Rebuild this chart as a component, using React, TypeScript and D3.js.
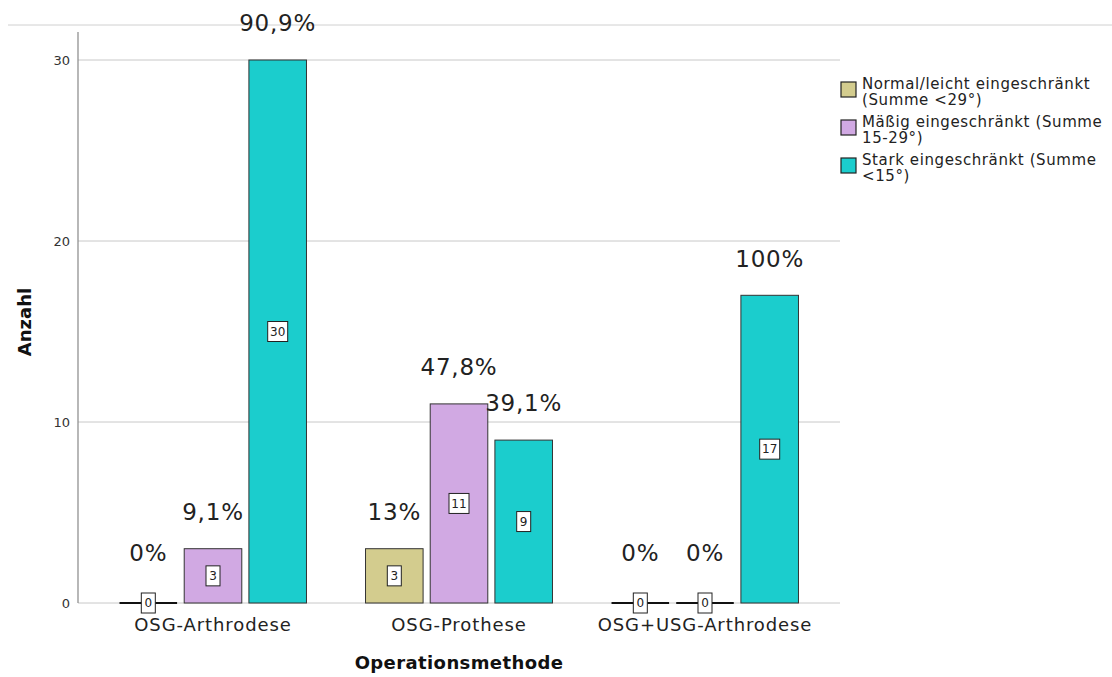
import React from "react";
import * as d3 from "d3";

const categories = ["OSG-Arthrodese", "OSG-Prothese", "OSG+USG-Arthrodese"];
const seriesNames = [
  ["Normal/leicht eingeschränkt", "(Summe <29°)"],
  ["Mäßig eingeschränkt (Summe", "15-29°)"],
  ["Stark eingeschränkt (Summe", "<15°)"],
];
const seriesKeys = ["normal", "maessig", "stark"];
const colors = ["#D3CC8E", "#D1A9E3", "#1BCDCD"];
const normalValues = [0, 3, 0];
const maessigValues = [3, 11, 0];
const starkValues = [30, 9, 17];
const normalPct = ["0%", "13%", "0%"];
const maessigPct = ["9,1%", "47,8%", "0%"];
const starkPct = ["90,9%", "39,1%", "100%"];
const yTicks = [0, 10, 20, 30];

const W = 1112;
const H = 677;
const font = "'DejaVu Sans', 'Noto Sans', sans-serif";

export default function App() {
  const plotLeft = 78;
  const plotRight = 840;
  const y = d3.scaleLinear().domain([0, 30]).range([603, 60]);
  const x0 = d3.scaleBand<string>().domain(categories).range([90, 828]).paddingInner(0.24).paddingOuter(0.12);
  const x1 = d3.scaleBand<string>().domain(seriesKeys).range([0, x0.bandwidth()]).paddingInner(0.11);

  const values = [normalValues, maessigValues, starkValues];
  const pcts = [normalPct, maessigPct, starkPct];

  return (
    <svg width={W} height={H} style={{ position: "absolute", left: 0, top: 0, background: "#fff" }}>
      <line x1={8} x2={W} y1={25} y2={25} stroke="#d0d0d0" strokeWidth={1} />
      {yTicks.map((t) => (
        <g key={t}>
          <line x1={plotLeft} x2={plotRight} y1={y(t)} y2={y(t)} stroke="#c8c8c8" strokeWidth={1} />
          <text x={70} y={y(t)} dy="0.35em" textAnchor="end" fontSize={13} fill="#333" fontFamily={font}>
            {t}
          </text>
        </g>
      ))}
      <line x1={plotLeft} x2={plotLeft} y1={32} y2={603} stroke="#888" strokeWidth={1.2} />
      {categories.map((c, ci) => (
        <g key={c}>
          {seriesKeys.map((k, si) => {
            const v = values[si][ci];
            const bx = (x0(c) as number) + (x1(k) as number);
            const bw = x1.bandwidth();
            const top = y(v);
            const cx = bx + bw / 2;
            const midY = v === 0 ? y(0) : (y(0) + top) / 2;
            const pctY = v === 0 ? y(0) - 50 : top - 37;
            const bw2 = String(v).length > 1 ? 20 : 14;
            return (
              <g key={k}>
                {v > 0 ? (
                  <rect x={bx} y={top} width={bw} height={y(0) - top} fill={colors[si]} stroke="#333" strokeWidth={1} />
                ) : (
                  <line x1={bx} x2={bx + bw} y1={y(0)} y2={y(0)} stroke="#111" strokeWidth={2} />
                )}
                <rect x={cx - bw2 / 2} y={midY - 10} width={bw2} height={20} fill="#fff" stroke="#222" strokeWidth={1} />
                <text x={cx} y={midY} dy="0.36em" textAnchor="middle" fontSize={12} fill="#222" fontFamily={font}>
                  {v}
                </text>
                <text x={cx} y={pctY} dy="0.36em" textAnchor="middle" fontSize={23} letterSpacing={0.8} fill="#222" fontFamily={font}>
                  {pcts[si][ci]}
                </text>
              </g>
            );
          })}
          <text x={(x0(c) as number) + x0.bandwidth() / 2} y={625} dy="0.36em" textAnchor="middle" fontSize={18} letterSpacing={0.9} fill="#222" fontFamily={font}>
            {c}
          </text>
        </g>
      ))}
      <text x={459} y={663} dy="0.36em" textAnchor="middle" fontSize={18} letterSpacing={0.4} fontWeight="bold" fill="#111" fontFamily={font}>
        Operationsmethode
      </text>
      <text transform={`translate(25,322) rotate(-90)`} dy="0.36em" textAnchor="middle" fontSize={18} fontWeight="bold" fill="#111" fontFamily={font}>
        Anzahl
      </text>
      {seriesNames.map((lines, i) => {
        const ly = 82 + i * 38;
        return (
          <g key={i}>
            <rect x={841} y={ly} width={15} height={15} fill={colors[i]} stroke="#222" strokeWidth={1.2} />
            {lines.map((ln, j) => (
              <text key={j} x={862} y={ly + 2 + j * 16} dy="0.36em" fontSize={15} letterSpacing={0.6} fill="#222" fontFamily={font}>
                {ln}
              </text>
            ))}
          </g>
        );
      })}
    </svg>
  );
}
